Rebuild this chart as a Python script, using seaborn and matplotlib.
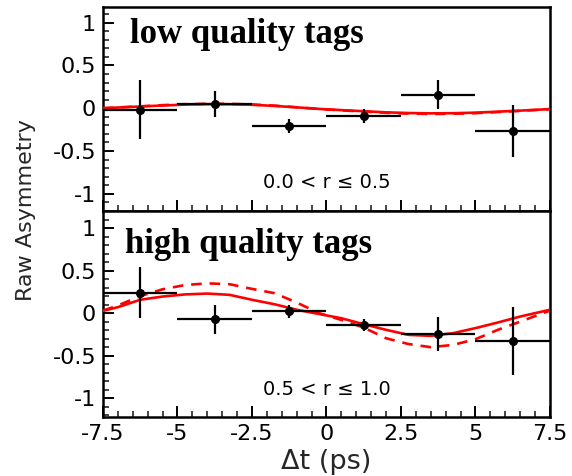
import numpy as np
import pandas as pd
import matplotlib
matplotlib.use("Agg")
import matplotlib.pyplot as plt
import seaborn as sns
from matplotlib.ticker import MultipleLocator

# ---- data ----
bin_centers = [-6.25, -3.75, -1.25, 1.25, 3.75, 6.25]
bin_halfwidth = [1.25, 1.25, 1.25, 1.25, 1.25, 1.25]

low_asym = [-0.015, 0.047, -0.21, -0.09, 0.16, -0.265]
low_err = [0.34, 0.15, 0.08, 0.08, 0.17, 0.30]

high_asym = [0.24, -0.07, 0.02, -0.14, -0.245, -0.33]
high_err = [0.30, 0.17, 0.08, 0.075, 0.20, 0.40]

curve_t = [-7.5, -7.0, -6.25, -5.5, -4.75, -4.0, -3.25, -2.5, -1.75, -1.0,
           -0.25, 0.5, 1.25, 2.0, 2.75, 3.5, 4.25, 5.0, 5.75, 6.5, 7.5]
low_solid = [0.0, 0.008, 0.02, 0.032, 0.042, 0.047, 0.046, 0.04, 0.027, 0.01,
             -0.008, -0.022, -0.035, -0.048, -0.056, -0.06, -0.058, -0.052, -0.04, -0.028, -0.01]
low_dashed = [0.0, 0.009, 0.022, 0.036, 0.047, 0.052, 0.051, 0.044, 0.03, 0.011,
              -0.009, -0.025, -0.04, -0.054, -0.063, -0.067, -0.065, -0.058, -0.045, -0.031, -0.011]
high_solid = [0.027, 0.07, 0.157, 0.195, 0.22, 0.23, 0.215, 0.157, 0.105, 0.04,
              -0.01, -0.06, -0.13, -0.196, -0.255, -0.267, -0.235, -0.176, -0.11, -0.04, 0.04]
high_dashed = [0.03, 0.09, 0.2, 0.28, 0.33, 0.35, 0.34, 0.285, 0.235, 0.125,
               0.0, -0.08, -0.17, -0.295, -0.363, -0.4, -0.373, -0.306, -0.196, -0.1, 0.03]

panel_titles = ["low quality tags", "high quality tags"]
panel_ranges = ["0.0 < r \u2264 0.5", "0.5 < r \u2264 1.0"]
x_ticks = [-7.5, -5, -2.5, 0, 2.5, 5, 7.5]
x_tick_labels = ["-7.5", "-5", "-2.5", "0", "2.5", "5", "7.5"]
y_ticks = [-1, -0.5, 0, 0.5, 1]
y_tick_labels = ["-1", "-0.5", "0", "0.5", "1"]

sns.set_theme(style="ticks")
plt.rcParams["font.family"] = ["DejaVu Sans"]

fig = plt.figure(figsize=(5.72, 4.76), dpi=100)
left, right = 0.180, 0.9615
ax_top = fig.add_axes([left, 0.5567, right - left, 0.985 - 0.5567])
ax_bot = fig.add_axes([left, 0.124, right - left, 0.5567 - 0.124])

panels = [
    (ax_top, low_asym, low_err, low_solid, low_dashed, (-1.2, 1.18), (-6.6, 0.757), -0.93),
    (ax_bot, high_asym, high_err, high_solid, high_dashed, (-1.22, 1.2), (-6.75, 0.71), -0.96),
]

for i, (ax, asym, err, solid, dashed, ylim, tpos, rpos) in enumerate(panels):
    cdf = pd.DataFrame({"t": curve_t, "solid": solid, "dashed": dashed})
    sns.lineplot(data=cdf, x="t", y="solid", ax=ax, color="#ff0000", lw=1.9,
                 zorder=3)
    sns.lineplot(data=cdf, x="t", y="dashed", ax=ax, color="#ff0000", lw=1.9,
                 linestyle=(0, (4, 3)), zorder=3)
    ax.errorbar(bin_centers, asym, xerr=bin_halfwidth, yerr=err, fmt="o",
                color="black", ms=5.5, elinewidth=1.6, capsize=0, zorder=4)
    ax.set_xlim(-7.5, 7.5)
    ax.set_ylim(*ylim)
    ax.set_xlabel("")
    ax.set_ylabel("")
    ax.set_xticks(x_ticks)
    ax.set_yticks(y_ticks)
    ax.set_yticklabels(y_tick_labels)
    ax.xaxis.set_minor_locator(MultipleLocator(0.5))
    ax.yaxis.set_minor_locator(MultipleLocator(0.1))
    ax.tick_params(axis="both", which="major", direction="in", length=8,
                   width=1.4, labelsize=16, colors="black", pad=5)
    ax.tick_params(axis="both", which="minor", direction="in", length=4,
                   width=1.2)
    ax.tick_params(top=False, right=False, which="both")
    for s in ax.spines.values():
        s.set_linewidth(1.8)
        s.set_color("black")
        s.set_visible(True)
    ax.text(tpos[0], tpos[1], panel_titles[i], fontsize=25, fontweight="bold",
            family=["Liberation Serif", "DejaVu Serif"], ha="left",
            va="baseline", color="black")
    ax.text(0.0, rpos, panel_ranges[i], fontsize=14, ha="center",
            va="baseline", color="black")
    ax.set_facecolor("white")

ax_top.set_xticklabels([])
ax_bot.set_xticklabels(x_tick_labels)

fig.text(0.571, 0.029, "\u0394t (ps)", fontsize=19.5, ha="center", va="center")
fig.text(0.045, 0.558, "Raw Asymmetry", fontsize=16, rotation=90,
         ha="center", va="center")

fig.savefig("out.png", dpi=100, facecolor="white")
